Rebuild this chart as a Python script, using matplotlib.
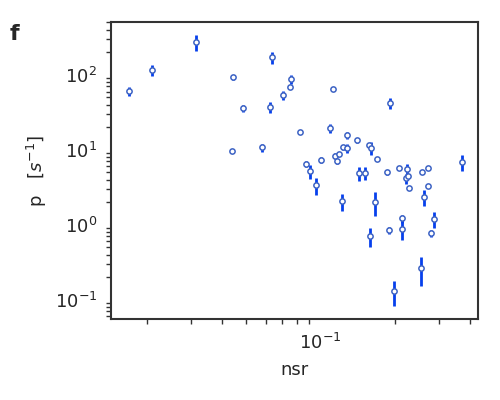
import numpy as np
import matplotlib
matplotlib.use("Agg")
import matplotlib.pyplot as plt

# values (nsr, p, symmetric error on p; 0 = no bar)
nsr = [0.0169, 0.0209, 0.0314, 0.0444, 0.0636, 0.0761, 0.0754, 0.0705, 0.0486, 0.0625,
       0.0828, 0.0440, 0.0581, 0.0875, 0.0908, 0.0960, 0.1093, 0.1124, 0.1903, 0.1280,
       0.1405, 0.1570, 0.1591, 0.1233, 0.1280, 0.1145, 0.1189, 0.1167, 0.1006, 0.1691,
       0.1431, 0.1513, 0.1856, 0.2075, 0.2235, 0.2214, 0.2255, 0.2276, 0.2569, 0.2716,
       0.2716, 0.2617, 0.1222, 0.1661, 0.1585, 0.1891, 0.2133, 0.2133, 0.2871, 0.2793,
       0.2545, 0.1975, 0.3724]
p = [60.9, 116, 272, 92.7, 171, 87.3, 68.2, 53.4, 35.8, 36.9,
     17.1, 9.65, 10.8, 6.42, 5.18, 3.37, 19.4, 64.2, 41.8, 15.6,
     13.4, 11.5, 10.7, 10.8, 10.5, 8.2, 8.73, 7.04, 7.26, 7.48,
     4.87, 4.87, 5.02, 5.68, 5.50, 4.18, 4.44, 3.07, 5.02, 5.68,
     3.27, 2.33, 2.06, 2.00, 0.704, 0.846, 1.22, 0.872, 1.186, 0.772,
     0.263, 0.130, 6.82]
p_err = [8, 19, 65, 8, 32, 11, 0, 7, 3.5, 6,
         0, 0, 1.3, 0.6, 1.1, 0.9, 2.6, 0, 7, 1.8,
         1.0, 0, 2.2, 0.95, 1.4, 0.75, 0, 0.6, 0.67, 0,
         1.0, 0.95, 0.4, 0, 0.9, 0.65, 0, 0, 0, 0,
         0, 0.57, 0.52, 0.7, 0.2, 0.08, 0.15, 0.25, 0.29, 0.09,
         0.11, 0.047, 1.6]

plt.rcParams['font.family'] = ['DejaVu Sans']
text_col = '#262626'

fig = plt.figure(figsize=(5, 4), dpi=100)
ax = fig.add_axes([0.222, 0.2025, 0.734, 0.7425])

ax.errorbar(nsr, p, yerr=p_err, fmt='none', ecolor='#0640ec', elinewidth=2, capsize=0, zorder=2)
ax.plot(nsr, p, 'o', ms=3.8, mfc='white', mec='#3d63c4', mew=1.1, ls='none', zorder=3)

ax.set_xscale('log')
ax.set_yscale('log')
ax.set_xlim(0.0143, 0.43)
ax.set_ylim(0.0555, 507)

for s in ax.spines.values():
    s.set_linewidth(1.5)
    s.set_color('#333333')

ax.tick_params(which='major', length=0, pad=10, labelsize=13, labelcolor=text_col)
ax.tick_params(which='minor', length=3.5, width=1, color='#333333')
ax.tick_params(axis='x', which='minor', labelbottom=False)

ax.set_xlabel('nsr', fontsize=13, color=text_col, labelpad=6)
ax.set_ylabel('p   [$s^{-1}$]', fontsize=13, color=text_col, labelpad=4)

fig.text(0.02, 0.90, 'f', fontsize=16, fontweight='bold', color=text_col)

fig.savefig('out.png', dpi=100)
